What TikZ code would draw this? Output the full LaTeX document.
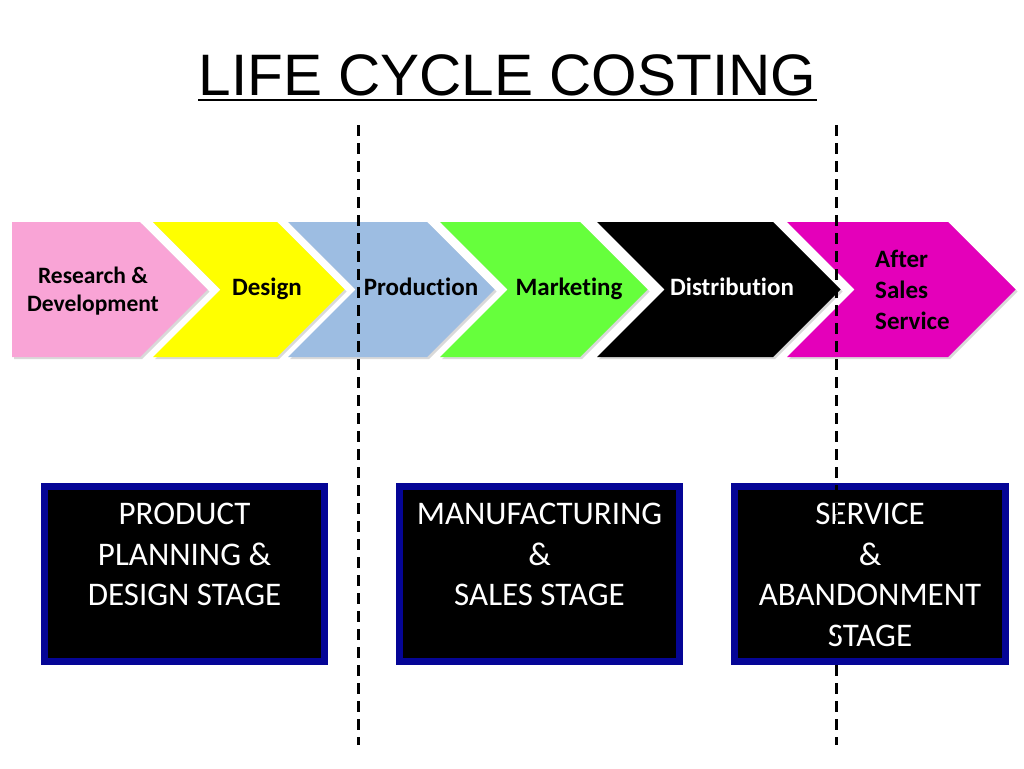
\documentclass[tikz,border=0pt]{standalone}
\usepackage{fontspec}
\setmainfont[Ligatures=NoCommon]{Carlito}
\newfontfamily\titlefont{Liberation Sans}
\usetikzlibrary{positioning,shadows}
\definecolor{rdpink}{RGB}{249,164,214}
\definecolor{dsyellow}{RGB}{255,255,0}
\definecolor{prblue}{RGB}{157,189,226}
\definecolor{mkgreen}{RGB}{102,255,60}
\definecolor{asmagenta}{RGB}{228,0,186}
\definecolor{stagenavy}{RGB}{5,5,150}

\begin{document}
\begin{tikzpicture}[x=1pt,y=-1pt]
    \tikzstyle{chevron} = [drop shadow={shadow xshift=2pt, shadow yshift=-2pt, opacity=0.3}]
    \tikzstyle{steptext} = [font=\fontsize{25}{31}\selectfont\bfseries, align=center, inner sep=0pt]
    \tikzstyle{stagebox} = [rectangle, draw=stagenavy, line width=7pt, fill=black, minimum width=280pt, minimum height=175pt]
    \tikzstyle{stagetext} = [font=\fontsize{33}{40.5}\selectfont, text=white, align=center, inner sep=0pt]
    \tikzstyle{divider} = [line width=3pt, dash pattern=on 11pt off 7pt]

    \useasboundingbox (0,0) rectangle (1024,768);

    % title
    \node (title) [font=\titlefont\fontsize{58.5}{70}\selectfont, inner sep=0pt, anchor=base] at (507.5,95) {LIFE CYCLE COSTING};
    \draw [line width=2.5pt] ([yshift=-5pt]title.base west) -- ([yshift=-5pt]title.base east);

    % chevrons
    \path [fill=rdpink, chevron] (12,222) -- (140,222) -- (207.5,289.5) -- (140,357) -- (12,357) -- cycle;
    \path [fill=dsyellow, chevron] (153,222) -- (277,222) -- (344.5,289.5) -- (277,357) -- (153,357) -- (220.5,289.5) -- cycle;
    \path [fill=prblue, chevron] (288,222) -- (427,222) -- (494.5,289.5) -- (427,357) -- (288,357) -- (355.5,289.5) -- cycle;
    \path [fill=mkgreen, chevron] (440,222) -- (580,222) -- (647.5,289.5) -- (580,357) -- (440,357) -- (507.5,289.5) -- cycle;
    \path [fill=black, chevron] (597,222) -- (773,222) -- (840.5,289.5) -- (773,357) -- (597,357) -- (664.5,289.5) -- cycle;
    \path [fill=asmagenta, chevron] (787,222) -- (948,222) -- (1015.5,289.5) -- (948,357) -- (787,357) -- (854.5,289.5) -- cycle;

    \node (rd) [steptext, font=\fontsize{23.5}{28}\selectfont\bfseries] at (93,291) {Research \&\\Development};
    \node (design) [steptext, anchor=base] at (267,295) {Design};
    \node (production) [steptext, anchor=base] at (421,295) {Production};
    \node (marketing) [steptext, anchor=base] at (569,295) {Marketing};
    \node (distribution) [steptext, anchor=base, text=white] at (732,295) {Distribution};
    \node (aftersales) [steptext, align=left, anchor=west] at (875,290) {After\\Sales\\Service};

    % stages
    \node (planbox) [stagebox] at (184.5,574) {};
    \node (mfgbox) [stagebox] at (539.5,574) {};
    \node (servbox) [stagebox, minimum width=271pt] at (870,574) {};

    \node (plantext) [stagetext, below=20pt of planbox.north] {PRODUCT\\PLANNING \&\\DESIGN STAGE};
    \node (mfgtext) [stagetext, below=20pt of mfgbox.north] {MANUFACTURING\\\&\\SALES STAGE};
    \node (servtext) [stagetext, below=20pt of servbox.north] {SERVICE\\\&\\ABANDONMENT\\STAGE};

    % dividers
    \coordinate (divAtop) at (358,125);
    \coordinate (divAbot) at (358,745);
    \coordinate (divBtop) at (836,125);
    \coordinate (divBbot) at (836,745);
    \draw [divider] (divAtop) -- (divAbot);
    \draw [divider] (divBtop) -- (divBbot);
\end{tikzpicture}
\end{document}
